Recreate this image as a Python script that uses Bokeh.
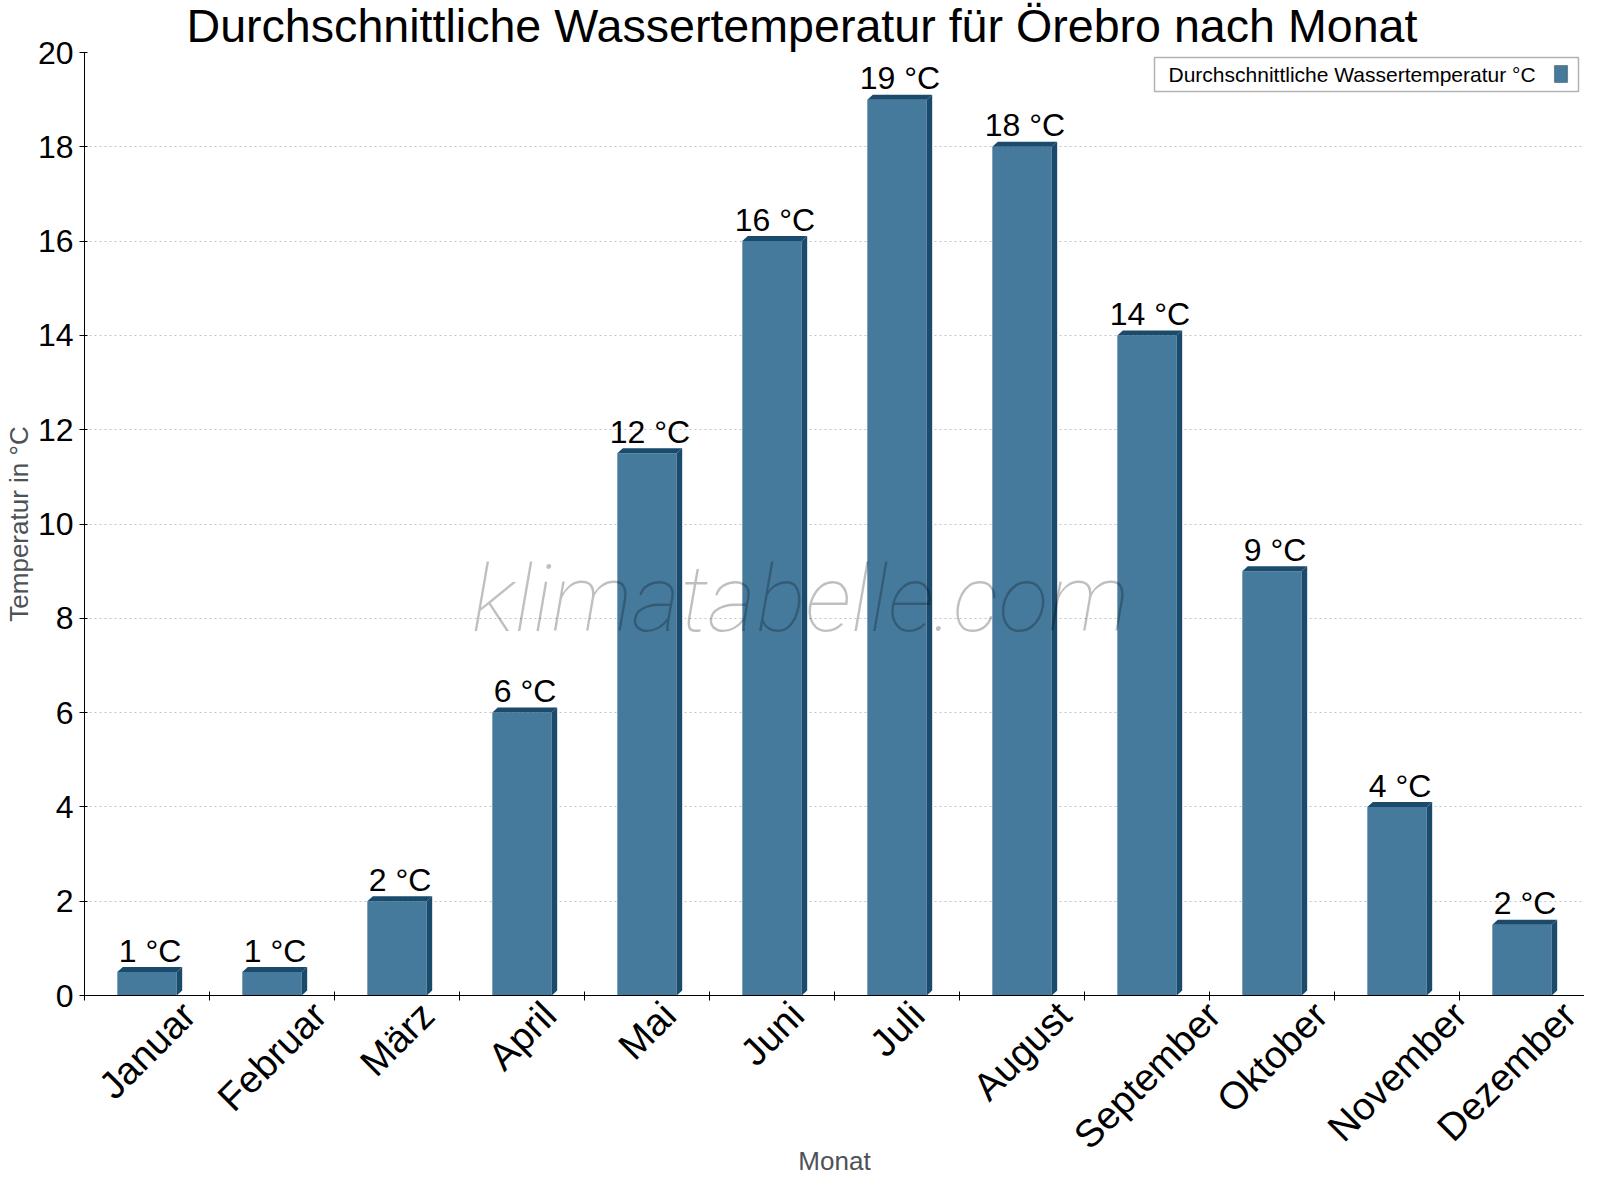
import math
from bokeh.plotting import figure
from bokeh.models import (Range1d, FixedTicker, LinearAxis, Label, BoxAnnotation,
                          ColumnDataSource)
from bokeh.core.properties import value
from bokeh.embed import file_html
from bokeh.resources import INLINE

# ---------------- data ----------------
months = ["Januar", "Februar", "März", "April", "Mai", "Juni", "Juli",
          "August", "September", "Oktober", "November", "Dezember"]
water_temp = [0.5, 0.5, 2, 6, 11.5, 16, 19, 18, 14, 9, 4, 1.5]
value_labels = ["1 °C", "1 °C", "2 °C", "6 °C", "12 °C", "16 °C", "19 °C",
                "18 °C", "14 °C", "9 °C", "4 °C", "2 °C"]
y_ticks = [0, 2, 4, 6, 8, 10, 12, 14, 16, 18, 20]
series_name = "Durchschnittliche Wassertemperatur °C"
title_text = "Durchschnittliche Wassertemperatur für Örebro nach Monat"
x_label = "Monat"
y_label = "Temperatur in °C"
watermark = "klimatabelle.com"

# ---------------- style ----------------
FONT = "Liberation Sans"
FRONT = "#467a9c"
DARK = "#1a4a6c"
BAR_W = 0.475
DX = 0.044          # 3D depth in x (data units)
DY = 0.106          # 3D depth in y (data units)
LABEL_GAP = 0.452   # value label anchor above bar value (data units)
CAT_FONT_PX = 38.5
PX_PER_X = 125.0    # frame width / categories

# Liberation Sans (Arial metrics) advance widths, per 1000 em
CHAR_W = {"J": 500, "a": 556, "n": 556, "u": 556, "r": 333, "F": 611, "e": 556,
          "b": 556, "M": 833, "ä": 556, "z": 500, "A": 667, "p": 556, "i": 222,
          "l": 222, "g": 556, "s": 500, "t": 278, "S": 667, "m": 833, "O": 778,
          "k": 500, "o": 556, "N": 722, "v": 500, "D": 722}


def text_width(s, px):
    return sum(CHAR_W.get(ch, 556) for ch in s) * px / 1000.0


p = figure(width=1584, height=1184, output_backend="svg", toolbar_location=None,
           x_range=Range1d(0, len(months)), y_range=Range1d(0, 20),
           min_border_left=76, min_border_right=0, min_border_top=45,
           min_border_bottom=189)
p.outline_line_color = None
p.background_fill_color = "white"
p.border_fill_color = "white"

p.title.text = title_text
p.title.text_font = FONT
p.title.text_font_size = "46.6px"
p.title.text_font_style = "normal"
p.title.text_color = "black"
p.title.align = "left"
p.title.offset = 102
p.title.standoff = -2
p.title.text_line_height = 0.4
p.title.vertical_align = "top"

centers = [i + 0.5 for i in range(len(months))]

# x axis: boundary ticks (minor) + rotated month labels centred on each category
ang = math.pi / 4
label_ticks = [round(min(c + text_width(m, CAT_FONT_PX) / 2 * math.cos(ang) / PX_PER_X,
                         len(months) - 0.001), 4)
               for c, m in zip(centers, months)]
xa = p.xaxis[0]
xa.ticker = FixedTicker(ticks=label_ticks, minor_ticks=list(range(len(months) + 1)))
xa.major_label_overrides = {t: m for t, m in zip(label_ticks, months)}
xa.major_label_orientation = ang
xa.major_label_standoff = 8
xa.major_tick_in = 0
xa.major_tick_out = 0
xa.minor_tick_in = 4
xa.minor_tick_out = 5
xa.minor_tick_line_color = "black"
xa.axis_line_color = "black"
xa.major_label_text_font = FONT
xa.major_label_text_font_size = f"{CAT_FONT_PX}px"
xa.major_label_text_color = "black"
xa.axis_label = x_label
xa.axis_label_text_font = FONT
xa.axis_label_text_font_size = "26px"
xa.axis_label_text_font_style = "normal"
xa.axis_label_text_color = "#4d5258"
xa.axis_label_standoff = -29

# y axis
ya = p.yaxis[0]
ya.ticker = FixedTicker(ticks=y_ticks)
ya.major_tick_in = 3
ya.major_tick_out = 5
ya.minor_tick_line_color = None
ya.axis_line_color = "black"
ya.major_label_text_font = FONT
ya.major_label_text_font_size = "32px"
ya.major_label_text_color = "black"
ya.major_label_standoff = 6
ya.axis_label = y_label
ya.axis_label_text_font = FONT
ya.axis_label_text_font_size = "26px"
ya.axis_label_text_font_style = "normal"
ya.axis_label_text_color = "#4d5258"
ya.axis_label_standoff = 1

ra = LinearAxis(ticker=FixedTicker(ticks=[]), major_label_text_font_size="0px",
                major_tick_in=0, major_tick_out=0, minor_tick_in=0, minor_tick_out=0,
                major_label_standoff=0, axis_label_standoff=0,
                axis_line_color="black")
p.add_layout(ra, "right")

p.xgrid.visible = False
p.ygrid.grid_line_color = "#c4c4c4"
p.ygrid.grid_line_dash = "2 3"

# watermark
p.add_layout(Label(x=5.728, y=8.40, text=watermark, text_align="center",
                   text_baseline="alphabetic", text_font="Roboto Thin",
                   text_font_style="italic", text_font_size="93px",
                   text_color="black", text_alpha=0.25))

# bars
label_y = [v + LABEL_GAP for v in water_temp]
src = ColumnDataSource(dict(x=centers, top=water_temp, label=value_labels,
                            ly=label_y))
top_xs, top_ys, side_xs, side_ys = [], [], [], []
for c, v in zip(centers, water_temp):
    l, r = c - BAR_W / 2, c + BAR_W / 2
    top_xs.append([l, l + DX, r + DX, r])
    top_ys.append([v, v + DY, v + DY, v])
    side_xs.append([r, r + DX, r + DX, r])
    side_ys.append([0, DY, v + DY, v])

p.vbar(x="x", top="top", width=BAR_W, source=src, fill_color=FRONT, line_color=None)
p.patches(top_xs, top_ys, fill_color=DARK, line_color=None)
p.patches(side_xs, side_ys, fill_color=DARK, line_color=None)

p.text(x="x", y="ly", text="label", source=src, text_align="center",
       text_baseline="alphabetic", text_font=value(FONT), text_font_size="32px",
       text_color="black", x_offset=3)

# legend (label left, swatch right)
p.add_layout(BoxAnnotation(left=8.56, right=11.952, bottom=19.173, top=19.894,
                           fill_color="white", fill_alpha=1, line_color="black",
                           line_width=1.5))
p.add_layout(BoxAnnotation(left=11.76, right=11.864, bottom=19.364, top=19.724,
                           fill_color=FRONT, fill_alpha=1, line_color="black",
                           line_width=1.2))
p.add_layout(Label(x=8.672, y=19.53, text=series_name, text_align="left",
                   text_baseline="alphabetic", text_font=FONT,
                   text_font_size="21px", text_color="black"))

open("out.html", "w").write(file_html(p, INLINE))
